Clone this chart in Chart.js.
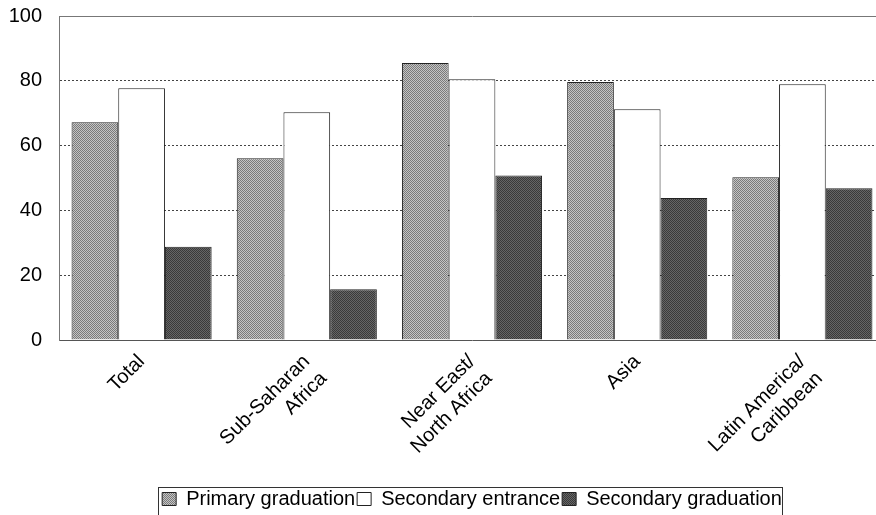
<!DOCTYPE html>
<html>
<head>
<meta charset="utf-8">
<script src="https://cdn.jsdelivr.net/npm/chart.js@4"></script>
<style>
  html, body { margin: 0; padding: 0; background: #fff; overflow: hidden; width: 876px; height: 515px; }
  #wrap { position: relative; width: 885px; height: 515px; }
</style>
</head>
<body>
<div id="wrap"><canvas id="chart"></canvas></div>
<script>
const regions = [
  "Total",
  ["Sub-Saharan", "Africa"],
  ["Near East/", "North Africa"],
  "Asia",
  ["Latin America/", "Caribbean"]
];
const primary_graduation = [67.2, 56.1, 85.5, 79.6, 50.2];
const secondary_entrance = [77.7, 70.3, 80.5, 71.2, 78.9];
const secondary_graduation = [28.8, 15.7, 50.8, 43.8, 46.8];
const y_ticks = [0, 20, 40, 60, 80, 100];

const FONT = 'Arial, "Liberation Sans", sans-serif';

// small dither patterns, like the scanned print
function make_pattern(dark, light) {
  let c = document.createElement('canvas');
  c.width = 2; c.height = 2;
  let g = c.getContext('2d');
  g.fillStyle = light; g.fillRect(0, 0, 2, 2);
  g.fillStyle = dark; g.fillRect(0, 0, 1, 1); g.fillRect(1, 1, 1, 1);
  return g.createPattern(c, 'repeat');
}

const primary_fill = make_pattern('#7a7a7a', '#c4c4c4');
const grad_fill = make_pattern('#3a3a3a', '#666666');

const legend_frame = {
  id: 'legend_frame',
  afterInit(chart) {
    const legend = chart.legend;
    const fit = legend.fit;
    legend.fit = function() {
      fit.call(this);
      this.height = 28;
    };
  },
  afterDraw(chart) {
    const boxes = chart.legend.legendHitBoxes;
    if (!boxes || !boxes.length) return;
    const first = boxes[0];
    const last = boxes[boxes.length - 1];
    const ctx = chart.ctx;
    ctx.save();
    ctx.strokeStyle = '#333';
    ctx.lineWidth = 1;
    ctx.strokeRect(Math.round(first.left - 4) + 0.5, Math.round(chart.legend.top) + 0.5,
      Math.round(last.left + last.width - first.left + 4), chart.height);
    ctx.restore();
  }
};

new Chart(document.getElementById('chart'), {
  type: 'bar',
  data: {
    labels: regions,
    datasets: [
      { label: 'Primary graduation', data: primary_graduation, backgroundColor: primary_fill, borderColor: '#222', borderWidth: 1 },
      { label: 'Secondary entrance', data: secondary_entrance, backgroundColor: '#ffffff', borderColor: '#222', borderWidth: 1 },
      { label: 'Secondary graduation', data: secondary_graduation, backgroundColor: grad_fill, borderColor: '#222', borderWidth: 1 }
    ]
  },
  options: {
    responsive: true,
    maintainAspectRatio: false,
    animation: false,
    devicePixelRatio: 1,
    layout: { padding: 0 },
    datasets: { bar: { categoryPercentage: 0.848, barPercentage: 1.0 } },
    plugins: {
      tooltip: { enabled: false },
      legend: {
        position: 'bottom',
        fullSize: false,
        labels: {
          color: '#000',
          font: { family: FONT, size: 20 },
          boxWidth: 14,
          boxHeight: 13,
          padding: 2
        }
      }
    },
    scales: {
      x: {
        grid: { display: false },
        border: { display: true, color: '#555', width: 1 },
        ticks: {
          color: '#000',
          font: { family: FONT, size: 20 },
          minRotation: 45,
          maxRotation: 45,
          padding: 2,
          autoSkip: false
        },
        afterFit(scale) { scale.height = 147; }
      },
      top: {
        position: 'top',
        type: 'category',
        labels: regions,
        grid: { display: false },
        border: { display: true, color: '#777', width: 1 },
        ticks: { display: false },
        afterFit(scale) { scale.height = 16; }
      },
      y: {
        min: 0,
        max: 100,
        afterBuildTicks(scale) { scale.ticks = y_ticks.map(v => ({ value: v })); },
        grid: {
          drawTicks: false,
          color: ctx => (ctx.tick && (ctx.tick.value === 0 || ctx.tick.value === 100)) ? 'rgba(0,0,0,0)' : '#444',
          lineWidth: 1
        },
        border: { display: true, color: '#777', width: 1, dash: [2, 2] },
        ticks: {
          color: '#000',
          font: { family: FONT, size: 20 },
          padding: 17
        },
        afterFit(scale) {
          scale.width = 59;
          scale.paddingTop = 0;
          scale.paddingBottom = 0;
        }
      }
    }
  },
  plugins: [legend_frame]
});
</script>
</body>
</html>
